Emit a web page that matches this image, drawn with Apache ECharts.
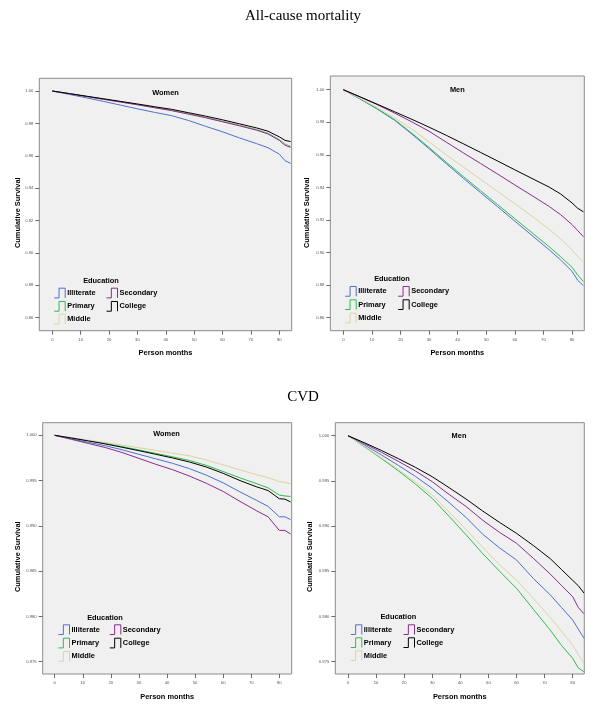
<!DOCTYPE html>
<html><head><meta charset="utf-8">
<script src="https://cdn.jsdelivr.net/npm/echarts@6/dist/echarts.min.js"></script>
<style>html,body{margin:0;padding:0;background:#fff}#c{width:600px;height:708px}</style>
</head><body><div id="c"></div>
<script>
// ---------- DATA ----------
const months = [0, 6, 12, 18, 24, 30, 36, 42, 48, 54, 60, 66, 72, 76, 80, 82, 84];
const groups = ['Illiterate', 'Primary', 'Middle', 'Secondary', 'College'];
const panelTitles = ['Women', 'Men', 'Women', 'Men'];
const sectionTitles = ['All-cause mortality', 'CVD'];

// All-cause mortality, women
const awIll = [1.0000,0.9979,0.9958,0.9936,0.9913,0.9890,0.9868,0.9848,0.9818,0.9782,0.9748,0.9710,0.9675,0.9650,0.9610,0.9570,0.9553];
const awPri = [1.0000,0.9984,0.9967,0.9950,0.9933,0.9916,0.9898,0.9881,0.9860,0.9838,0.9813,0.9788,0.9762,0.9739,0.9700,0.9672,0.9658];
const awMid = [1.0000,0.9983,0.9966,0.9949,0.9932,0.9915,0.9897,0.9880,0.9858,0.9836,0.9811,0.9786,0.9759,0.9736,0.9697,0.9669,0.9655];
const awSec = [1.0000,0.9983,0.9966,0.9949,0.9932,0.9915,0.9897,0.9879,0.9857,0.9835,0.9810,0.9785,0.9758,0.9735,0.9695,0.9665,0.9652];
const awCol = [1.0000,0.9984,0.9968,0.9952,0.9936,0.9920,0.9903,0.9887,0.9866,0.9845,0.9822,0.9797,0.9772,0.9752,0.9717,0.9695,0.9688];
// All-cause mortality, men
const amIll = [1.0000,0.9942,0.9880,0.9812,0.9727,0.9638,0.9546,0.9456,0.9368,0.9281,0.9193,0.9105,0.9017,0.8955,0.8885,0.8830,0.8797];
const amPri = [1.0000,0.9943,0.9882,0.9815,0.9732,0.9645,0.9555,0.9467,0.9380,0.9294,0.9208,0.9122,0.9036,0.8975,0.8910,0.8862,0.8822];
const amMid = [1.0000,0.9946,0.9888,0.9826,0.9758,0.9680,0.9600,0.9525,0.9450,0.9375,0.9300,0.9223,0.9143,0.9085,0.9015,0.8975,0.8944];
const amSec = [1.0000,0.9955,0.9907,0.9856,0.9802,0.9745,0.9678,0.9612,0.9547,0.9482,0.9415,0.9350,0.9283,0.9233,0.9172,0.9135,0.9097];
const amCol = [1.0000,0.9955,0.9910,0.9864,0.9818,0.9770,0.9720,0.9668,0.9615,0.9562,0.9508,0.9455,0.9402,0.9360,0.9305,0.9272,0.9250];
// CVD, women
const cwIll = [1.00000,0.99960,0.99922,0.99885,0.99840,0.99790,0.99740,0.99690,0.99632,0.99560,0.99475,0.99375,0.99280,0.99215,0.99100,0.99100,0.99070];
const cwPri = [1.00000,0.99970,0.99940,0.99910,0.99875,0.99838,0.99800,0.99762,0.99722,0.99668,0.99600,0.99530,0.99465,0.99420,0.99340,0.99330,0.99325];
const cwMid = [1.00000,0.99974,0.99947,0.99921,0.99892,0.99863,0.99833,0.99803,0.99774,0.99728,0.99673,0.99618,0.99565,0.99532,0.99490,0.99480,0.99465];
const cwSec = [1.00000,0.99955,0.99910,0.99865,0.99810,0.99745,0.99680,0.99620,0.99550,0.99470,0.99380,0.99270,0.99165,0.99100,0.98950,0.98950,0.98910];
const cwCol = [1.00000,0.99970,0.99938,0.99905,0.99868,0.99830,0.99790,0.99750,0.99705,0.99650,0.99580,0.99500,0.99430,0.99390,0.99300,0.99295,0.99265];
// CVD, men
const cmIll = [1.00000,0.99895,0.99785,0.99670,0.99550,0.99417,0.99260,0.99097,0.98909,0.98758,0.98625,0.98420,0.98240,0.98100,0.97961,0.97860,0.97760];
const cmPri = [1.00000,0.99875,0.99745,0.99610,0.99465,0.99307,0.99108,0.98905,0.98695,0.98500,0.98311,0.98080,0.97850,0.97680,0.97537,0.97430,0.97390];
const cmMid = [1.00000,0.99880,0.99755,0.99625,0.99490,0.99344,0.99156,0.98964,0.98764,0.98570,0.98403,0.98200,0.97990,0.97840,0.97684,0.97580,0.97480];
const cmSec = [1.00000,0.99910,0.99815,0.99715,0.99610,0.99491,0.99350,0.99218,0.99064,0.98930,0.98810,0.98643,0.98470,0.98344,0.98219,0.98100,0.98030];
const cmCol = [1.00000,0.99920,0.99835,0.99745,0.99650,0.99546,0.99425,0.99300,0.99166,0.99040,0.98920,0.98785,0.98640,0.98520,0.98400,0.98340,0.98260];

// axis tick ranges
const xTickRange = [0, 80], xTickStep = 10;
const yTickRangeAll = [0.86, 1.00], yTickStepAll = 0.02;
const yTickRangeCvd = [0.975, 1.000], yTickStepCvd = 0.005;

// ---------- STYLE / LAYOUT ----------
const colors = ['#4c6fd4', '#2fbb4c', '#dbd4a4', '#8a2c8d', '#000000'];
const SANS = '"Liberation Sans", Arial, sans-serif';
const pulse = 'path://M0,30 L15,30 L15,0 L34,0 L34,30';
// legend slot (column, row) for each group
const legendSlot = [[0, 0], [0, 1], [0, 2], [1, 0], [1, 1]];

const panels = [
  { series: [awIll, awPri, awMid, awSec, awCol], frame: [39.3, 78.3, 291.7, 330.7], xPx: [52.3, 279.3], yPx: [91, 317.7],
    yr: yTickRangeAll, ys: yTickStepAll, dec: 2, yName: [18.3, 212.7], title: [165.5, 93.3],
    edu: [101, 281], legCols: [51.7, 104], legRows: [291.7, 305, 317.7] },
  { series: [amIll, amPri, amMid, amSec, amCol], frame: [330.3, 76, 584.3, 330.7], xPx: [343.3, 572], yPx: [89.7, 317.7],
    yr: yTickRangeAll, ys: yTickStepAll, dec: 2, yName: [307.3, 212.7], title: [457.3, 90],
    edu: [392, 279.3], legCols: [342.7, 395.7], legRows: [290, 303.3, 316.7] },
  { series: [cwIll, cwPri, cwMid, cwSec, cwCol], frame: [42.7, 422.7, 291.7, 674], xPx: [54.7, 279.3], yPx: [435.3, 661.7],
    yr: yTickRangeCvd, ys: yTickStepCvd, dec: 3, yName: [18.3, 556.7], title: [166.5, 434],
    edu: [105, 617.7], legCols: [56, 107.3], legRows: [628.3, 641.7, 655] },
  { series: [cmIll, cmPri, cmMid, cmSec, cmCol], frame: [335.3, 422.7, 584.3, 674], xPx: [348, 572.7], yPx: [435.7, 661.7],
    yr: yTickRangeCvd, ys: yTickStepCvd, dec: 3, yName: [310, 556.7], title: [459, 435.7],
    edu: [398.3, 617.3], legCols: [348.3, 401], legRows: [628.3, 641.3, 654.3] }
];

const grid = [], xAxis = [], yAxis = [], series = [], legend = [], graphic = [];
const hidden = { axisLine: { show: false }, axisTick: { show: false }, axisLabel: { show: false }, splitLine: { show: false } };
const tickStyle = { show: true, length: 4, inside: false, lineStyle: { color: '#6a6a6a', width: 1 } };
const tickLabel = { fontSize: 4.2, color: '#555', fontFamily: SANS };
const dummy = gi => Object.assign({ gridIndex: gi, type: 'value', min: 0, max: 1 }, hidden);

panels.forEach((p, i) => {
  const [l, t, r, b] = p.frame;
  const xs = (p.xPx[1] - p.xPx[0]) / (xTickRange[1] - xTickRange[0]);
  const yscale = (p.yPx[1] - p.yPx[0]) / (p.yr[1] - p.yr[0]);
  const xLo = xTickRange[0] + (l - p.xPx[0]) / xs;
  const xHi = xTickRange[0] + (r - p.xPx[0]) / xs;
  const yHi = p.yr[1] + (p.yPx[0] - t) / yscale;
  const yLo = p.yr[0] - (b - p.yPx[1]) / yscale;
  const g0 = 3 * i;

  // grid 0: frame holding the curves; grid 1: x tick axis; grid 2: y tick axis
  grid.push({ left: l, top: t, width: r - l, height: b - t, show: true, backgroundColor: '#f0f0f0',
    borderColor: '#8c8c8c', borderWidth: 1, containLabel: false, outerBoundsMode: 'none', z: 0 });
  grid.push({ left: p.xPx[0], top: t, width: p.xPx[1] - p.xPx[0], height: b - t,
    show: false, containLabel: false, outerBoundsMode: 'none' });
  grid.push({ left: l, top: p.yPx[0], width: r - l, height: p.yPx[1] - p.yPx[0],
    show: false, containLabel: false, outerBoundsMode: 'none' });

  xAxis.push(Object.assign({ gridIndex: g0, type: 'value', min: xLo, max: xHi,
    name: 'Person months', nameLocation: 'middle', nameGap: 19,
    nameTextStyle: { fontSize: 7.4, fontWeight: 'bold', color: '#000', fontFamily: SANS } }, hidden));
  yAxis.push(Object.assign({ gridIndex: g0, type: 'value', min: yLo, max: yHi }, hidden));

  xAxis.push({ gridIndex: g0 + 1, type: 'value', min: xTickRange[0], max: xTickRange[1], interval: xTickStep,
    axisLine: { show: false }, axisTick: tickStyle, splitLine: { show: false },
    axisLabel: Object.assign({ margin: 7 }, tickLabel) });
  yAxis.push(dummy(g0 + 1));

  xAxis.push(dummy(g0 + 2));
  yAxis.push({ gridIndex: g0 + 2, type: 'value', min: p.yr[0], max: p.yr[1], interval: p.ys,
    axisLine: { show: false }, axisTick: tickStyle, splitLine: { show: false },
    axisLabel: Object.assign({ margin: 6, formatter: v => v.toFixed(p.dec) }, tickLabel) });

  p.series.forEach((arr, g) => {
    series.push({ type: 'line', name: groups[g], xAxisIndex: g0, yAxisIndex: g0,
      data: months.map((m, k) => [m, arr[k]]), showSymbol: false, symbol: 'none', silent: true,
      lineStyle: { width: 1, color: colors[g] }, itemStyle: { color: colors[g] }, z: 2 + g });

    const [c, rw] = legendSlot[g];
    legend.push({ left: p.legCols[c], top: p.legRows[rw] - 6, orient: 'horizontal', itemWidth: 11, itemHeight: 10,
      padding: 0, icon: pulse, selectedMode: false,
      textStyle: { fontSize: 7.4, fontWeight: 'bold', color: '#000', fontFamily: SANS, padding: [0, 0, 0, -3] },
      data: [{ name: groups[g], itemStyle: { color: 'none', borderColor: colors[g], borderWidth: 1 } }] });
  });

  const txt = (x, y, text, rot) => ({ type: 'text', x, y, rotation: rot || 0, silent: true,
    style: { text, fontSize: 7.4, fontWeight: 'bold', fontFamily: SANS, fill: '#000',
      align: 'center', verticalAlign: 'middle', textAlign: 'center', textVerticalAlign: 'middle' } });
  graphic.push(txt(p.yName[0], p.yName[1], 'Cumulative Survival', Math.PI / 2));
  graphic.push(txt(p.title[0], p.title[1], panelTitles[i]));
  graphic.push(txt(p.edu[0], p.edu[1], 'Education'));
});

const chart = echarts.init(document.getElementById('c'));
chart.setOption({
  animation: false,
  backgroundColor: '#ffffff',
  title: [
    { text: sectionTitles[0], left: 298, top: 4, textAlign: 'center',
      textStyle: { fontFamily: '"Liberation Serif", "Times New Roman", serif', fontSize: 15, fontWeight: 'normal', color: '#000' } },
    { text: sectionTitles[1], left: 298, top: 384.5, textAlign: 'center',
      textStyle: { fontFamily: '"Liberation Serif", "Times New Roman", serif', fontSize: 15, fontWeight: 'normal', color: '#000' } }
  ],
  tooltip: { show: false },
  grid, xAxis, yAxis, series, legend, graphic
});
</script></body></html>
